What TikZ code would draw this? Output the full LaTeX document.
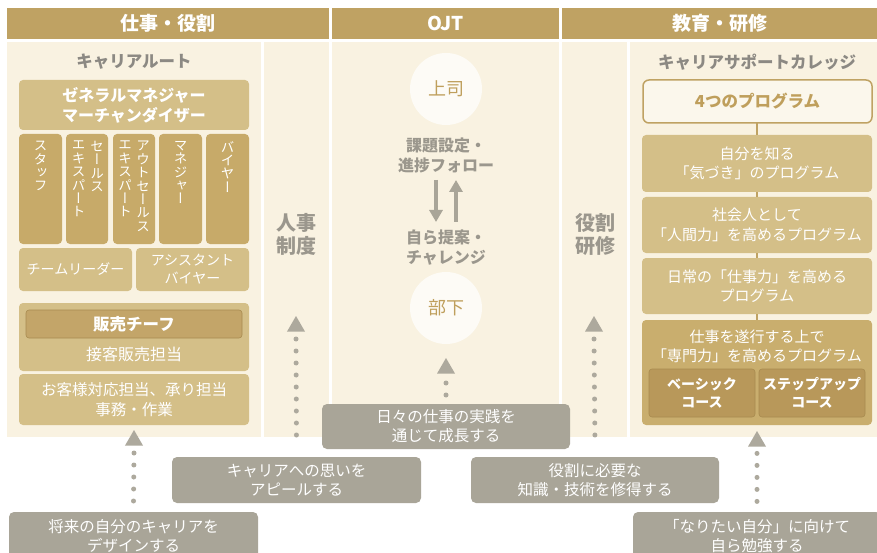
\documentclass[tikz,border=0pt]{standalone}
\usepackage{fontspec}
\usepackage{graphicx}
\setmainfont{Noto Sans CJK JP}
\newfontfamily\vfont[RawFeature=+vert]{Noto Sans CJK JP}
\usetikzlibrary{shapes.geometric,arrows.meta}
\definecolor{hdr}{HTML}{BFA263}
\definecolor{cream}{HTML}{F9F2E1}
\definecolor{pcream}{HTML}{FBF7EC}
\definecolor{ltan}{HTML}{D4BF88}
\definecolor{mtan}{HTML}{C7AA69}
\definecolor{ptan}{HTML}{C9AE6E}
\definecolor{btan}{HTML}{C3A569}
\definecolor{dtan}{HTML}{B8985A}
\definecolor{dedge}{HTML}{A88B50}
\definecolor{gbox}{HTML}{A9A598}
\definecolor{dotc}{HTML}{ADA99D}
\definecolor{gtext}{HTML}{8C8983}
\definecolor{gtext2}{HTML}{9B978D}
\definecolor{ttext}{HTML}{BF9F5C}
\definecolor{circ}{HTML}{FDFBF6}
\newcommand{\fsz}[2]{\fontsize{#1}{#2}\selectfont}
\begin{document}
\begin{tikzpicture}[x=1pt,y=-1pt,
  hdrbox/.style={fill=hdr, text=white, font=\bfseries\fsz{19}{19}, minimum height=31pt, inner sep=0pt},
  lbox/.style={fill=ltan, rounded corners=4pt, text=white, align=center, inner sep=0pt},
  mbox/.style={fill=mtan, rounded corners=4pt, inner sep=0pt},
  vtxt/.style={anchor=north, text=white, align=center, inner sep=0pt, font=\vfont\fsz{13.5}{13.4}},
  gbx/.style={fill=gbox, rounded corners=5pt, text=white, align=center, inner sep=0pt, minimum height=46pt, font=\fsz{15.5}{19}},
  tri/.style={regular polygon, regular polygon sides=3, fill=dotc, minimum size=20.8pt, inner sep=0pt},
  dotl/.style={draw=dotc, line width=5pt, line cap=round, dash pattern=on 0pt off 12pt},
  gtitle/.style={text=gtext, font=\bfseries\fsz{16.5}{16.5}, inner sep=0pt},
  ojtt/.style={text=gtext2, font=\bfseries\fsz{16}{20}, align=center, inner sep=0pt},
  side/.style={text=gtext2, font=\bfseries\fsz{20}{23}, align=center, inner sep=0pt},
  circnode/.style={circle, fill=circ, minimum size=72pt, inner sep=0pt, text=ttext, font=\fsz{18}{18}},
  oarrow/.style={draw=gbox, line width=4pt, -{Triangle[width=13pt,length=12pt]}},
  tanline/.style={draw=hdr, line width=1.5pt},
  dbox/.style={fill=dtan, draw=dedge, line width=0.6pt, rounded corners=3pt, text=white, align=center, inner sep=0pt, font=\bfseries\fsz{14}{17.5}}
]
\useasboundingbox (0,0) rectangle (877,553);
\fill[white] (0,0) rectangle (877,553);

% headers
\node[hdrbox, minimum width=322pt] (h1) at (168,23.5) {仕事・役割};
\node[hdrbox, minimum width=227pt] (h2) at (445.5,23.5) {OJT};
\node[hdrbox, minimum width=315pt] (h3) at (719.5,23.5) {教育・研修};

% panels
\fill[cream] (7,42) rectangle (261,437);
\fill[cream] (264,42) rectangle (329,437);
\fill[cream] (332,42) rectangle (559,437);
\fill[cream] (562,42) rectangle (627,437);
\fill[cream] (630,42) rectangle (877,437);

% ---------- left panel
\node[gtitle] (cr) at (134,62) {キャリアルート};
\node[lbox, minimum width=230pt, minimum height=50pt, font=\bfseries\fsz{16}{20}] (gm) at (134,105) {ゼネラルマネジャー\\マーチャンダイザー};

\node[mbox, minimum width=43pt, minimum height=110pt] (v1) at (40.5,189) {};
\node[mbox, minimum width=42pt, minimum height=110pt] (v2) at (87,189) {};
\node[mbox, minimum width=42pt, minimum height=110pt] (v3) at (134,189) {};
\node[mbox, minimum width=43pt, minimum height=110pt] (v4) at (180.5,189) {};
\node[mbox, minimum width=43pt, minimum height=110pt] (v5) at (227.5,189) {};
\node[vtxt] (v1t) at (40.5,141) {ス\\タ\\ッ\\フ};
\node[vtxt] (v2a) at (97,141) {セ\\ー\\ル\\ス};
\node[vtxt] (v2b) at (78.5,141) {エ\\キ\\ス\\パ\\ー\\ト};
\node[vtxt] (v3a) at (143,141) {ア\\ウ\\ト\\セ\\ー\\ル\\ス};
\node[vtxt] (v3b) at (125,141) {エ\\キ\\ス\\パ\\ー\\ト};
\node[vtxt] (v4t) at (180.5,141) {マ\\ネ\\ジ\\ャ\\ー};
\node[vtxt] (v5t) at (227.5,141) {バ\\イ\\ヤ\\ー};

\node[lbox, minimum width=113pt, minimum height=43pt, font=\fsz{14}{18}] (tl) at (75.5,269.5) {チームリーダー};
\node[lbox, minimum width=113pt, minimum height=43pt, font=\fsz{14}{18}] (ab) at (192.5,269.5) {アシスタント\\バイヤー};

\node[lbox, minimum width=230pt, minimum height=68pt] (hc) at (134,337) {};
\node[fill=btan, draw=dedge, line width=0.6pt, rounded corners=3pt, minimum width=216pt, minimum height=28pt, inner sep=0pt, text=white, font=\bfseries\fsz{16.5}{16.5}] (hcb) at (134,324) {販売チーフ};
\node[text=white, inner sep=0pt, font=\fsz{16}{16}] (hct) at (134,354) {接客販売担当};

\node[lbox, minimum width=230pt, minimum height=51pt, font=\fsz{15.5}{20}] (oc) at (134,399.5) {お客様対応担当、承り担当\\事務・作業};

% side columns
\node[side] (js) at (296,234) {人事\\制度};
\node[side] (ys) at (595,234) {役割\\研修};

% ---------- OJT
\node[circnode] (boss) at (446,89) {上司};
\node[ojtt] (t1) at (446,155) {課題設定・\\進捗フォロー};
\coordinate (a1s) at (436,180);
\coordinate (a1e) at (436,222);
\coordinate (a2s) at (456,222);
\coordinate (a2e) at (456,180);
\draw[oarrow] (a1s) -- (a1e);
\draw[oarrow] (a2s) -- (a2e);
\node[ojtt] (t2) at (446,248) {自ら提案・\\チャレンジ};
\node[circnode] (sub) at (446,308) {部下};

% ---------- right panel
\node[gtitle] (csc) at (757,62) {キャリアサポートカレッジ};
\node[draw=hdr, line width=1.5pt, fill=pcream, rounded corners=6pt, minimum width=229pt, minimum height=43pt, inner sep=0pt, text=ttext, font=\bfseries\fsz{16.5}{16.5}] (p0) at (757.5,101.5) {4つのプログラム};
\node[lbox, minimum width=230pt, minimum height=57pt, font=\fsz{15}{19.5}] (p1) at (757,163.5) {自分を知る\\「気づき」のプログラム};
\node[lbox, minimum width=230pt, minimum height=56pt, font=\fsz{15}{19.5}] (p2) at (757,225) {社会人として\\「人間力」を高めるプログラム};
\node[lbox, minimum width=230pt, minimum height=56pt, font=\fsz{15}{19.5}] (p3) at (757,286) {日常の「仕事力」を高める\\プログラム};
\node[fill=ptan, rounded corners=4pt, minimum width=230pt, minimum height=105pt, inner sep=0pt] (p4) at (757,372.5) {};
\node[text=white, align=center, inner sep=0pt, font=\fsz{15}{19}] (p4t) at (757,346) {仕事を遂行する上で\\「専門力」を高めるプログラム};
\node[dbox, minimum width=106pt, minimum height=48pt] (s1) at (702,393) {ベーシック\\コース};
\node[dbox, minimum width=106pt, minimum height=48pt] (s2) at (812,393) {ステップアップ\\コース};
\draw[tanline] (757,123) -- (p1.north);
\draw[tanline] (p1) -- (p2);
\draw[tanline] (p2) -- (p3);
\draw[tanline] (p3) -- (p4);

% ---------- bottom boxes
\node[gbx, minimum width=249pt, minimum height=48pt] (b1) at (133.5,536) {将来の自分のキャリアを\\デザインする};
\node[gbx, minimum width=249pt] (b2) at (296.5,480) {キャリアへの思いを\\アピールする};
\node[gbx, minimum width=248pt, minimum height=45pt] (b3) at (446,426.5) {日々の仕事の実践を\\通じて成長する};
\node[gbx, minimum width=248pt] (b4) at (595,480) {役割に必要な\\知識・技術を修得する};
\node[gbx, minimum width=248pt, minimum height=48pt] (b5) at (757,536) {「なりたい自分」に向けて\\自ら勉強する};

% triangles and dotted connectors
\node[tri] (tA) at (134,440.4) {};
\node[tri] (tB) at (296,326.4) {};
\node[tri] (tC) at (446,368.4) {};
\node[tri] (tD) at (594,326.4) {};
\node[tri] (tE) at (757,441.4) {};
\draw[dotl] ([yshift=-12.6pt]tA.center) -- ([yshift=10pt]b1.north);
\draw[dotl] ([yshift=-12.6pt]tB.center) -- ([yshift=10pt]b2.north);
\draw[dotl] ([yshift=-14.6pt]tC.center) -- ([yshift=8.5pt]b3.north);
\draw[dotl] ([yshift=-12.6pt]tD.center) -- ([yshift=10pt]b4.north);
\draw[dotl] ([yshift=-12pt]tE.center) -- ([yshift=10pt]b5.north);
\end{tikzpicture}
\end{document}
